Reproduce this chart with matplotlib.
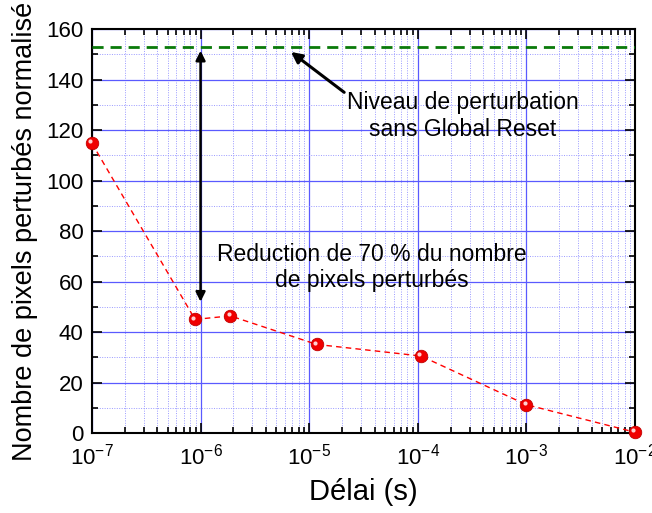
import numpy as np
import matplotlib
matplotlib.use('Agg')
import matplotlib.pyplot as plt
import matplotlib.transforms as mtransforms
from matplotlib.ticker import LogLocator, MultipleLocator, NullFormatter

plt.rcParams['font.family'] = ['Liberation Sans', 'DejaVu Sans']
plt.rcParams['mathtext.fontset'] = 'custom'
plt.rcParams['mathtext.rm'] = 'Liberation Sans'

# Données
delai = [1e-7, 8.9e-7, 1.88e-6, 1.17e-5, 1.07e-4, 1.0e-3, 1.0e-2]
pixels = [114.8, 45.0, 46.4, 35.1, 30.5, 11.2, 0.3]
niveau_sans_reset = 153

fig = plt.figure(figsize=(6.52, 5.13), dpi=100)
ax = fig.add_axes([0.141, 0.156, 0.833, 0.787])

ax.set_xscale('log')
ax.set_xlim(1e-7, 1e-2)
ax.set_ylim(0, 160)

# Grille
ax.xaxis.set_major_locator(LogLocator(base=10, numticks=10))
ax.xaxis.set_minor_locator(LogLocator(base=10, subs=np.arange(2, 10), numticks=20))
ax.xaxis.set_minor_formatter(NullFormatter())
ax.yaxis.set_major_locator(MultipleLocator(20))
ax.yaxis.set_minor_locator(MultipleLocator(10))
ax.grid(which='major', color='#5a5aff', linewidth=0.9, linestyle='-')
ax.grid(which='minor', color='#9a9aff', linewidth=0.7, linestyle=(0, (1, 1.5)))
ax.set_axisbelow(True)

# Niveau sans Global Reset
ax.axhline(niveau_sans_reset, color='#0a7a0a', linewidth=2, dashes=(4, 2.5), zorder=3)

# Courbe
ax.plot(delai, pixels, color='red', linewidth=1, dashes=(4, 3), zorder=4)
ax.plot(delai, pixels, linestyle='none', marker='o', markersize=9,
        markerfacecolor='#f00000', markeredgecolor='#c00000', markeredgewidth=0.6,
        zorder=5, clip_on=False)
reflet = mtransforms.offset_copy(ax.transData, fig=fig, x=-1.3, y=1.3, units='points')
ax.plot(delai, pixels, linestyle='none', marker='o', markersize=3,
        markerfacecolor='#ffd0d0', markeredgecolor='none', transform=reflet,
        zorder=6, clip_on=False)

# Flèches et annotations
ax.annotate('', xy=(1e-6, 151.5), xytext=(1e-6, 52),
            arrowprops=dict(arrowstyle='<|-|>', color='black', lw=1.8,
                            mutation_scale=14, shrinkA=0, shrinkB=0), zorder=7)
ax.annotate('', xy=(6.8e-6, 151), xytext=(2.1e-5, 135),
            arrowprops=dict(arrowstyle='-|>', color='black', lw=2.2,
                            mutation_scale=16, shrinkA=0, shrinkB=0), zorder=7)
ax.text(2.6e-4, 125.5, 'Niveau de perturbation\nsans Global Reset', fontsize=16.5,
        ha='center', va='center', linespacing=1.2)
ax.text(3.8e-5, 65.5, 'Reduction de 70 % du nombre\nde pixels perturbés', fontsize=16.5,
        ha='center', va='center', linespacing=1.2)

# Axes
ax.tick_params(which='both', direction='in', top=True, right=True, width=1.2)
ax.tick_params(which='major', length=7, labelsize=16, pad=6)
ax.tick_params(axis='x', which='major', pad=8)
ax.tick_params(which='minor', length=4)
for s in ax.spines.values():
    s.set_linewidth(1.5)

ax.set_xlabel('Délai (s)', fontsize=21, labelpad=6)
ax.set_ylabel('Nombre de pixels perturbés normalisé', fontsize=19.5, labelpad=6)

fig.savefig('out.png', dpi=100)
